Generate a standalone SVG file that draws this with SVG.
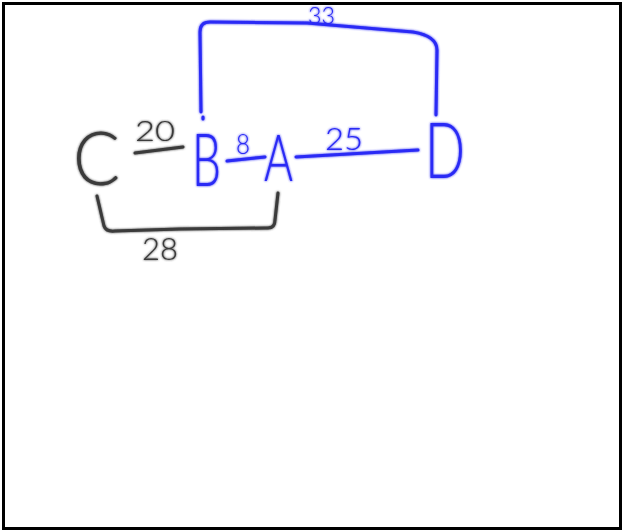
<svg xmlns="http://www.w3.org/2000/svg" width="624" height="532" viewBox="0 0 624 532">
<defs>
<filter id="glow" x="-10%" y="-10%" width="120%" height="120%">
<feGaussianBlur in="SourceGraphic" stdDeviation="1.2" result="b"/>
<feMerge><feMergeNode in="b"/><feMergeNode in="SourceGraphic"/></feMerge>
</filter>
</defs>
<style>
.ink{fill:none;stroke-width:3;stroke-linecap:round;stroke-linejoin:round}
.blue{stroke:#2a2af5}
.dark{stroke:#3a3a3a}
.t{font-family:Lato,"Open Sans","Liberation Sans",sans-serif;font-weight:300}
.tb{fill:#2a2af5}
.td{fill:#3a3a3a}
</style>
<rect x="3.5" y="3.5" width="617" height="525" fill="#fff" stroke="#000" stroke-width="3"/>
<g id="connectors" filter="url(#glow)">
<path class="ink blue" d="M201,112 L200,32 Q200,22 210,22 L307,23 L413,32 Q437,36 437,50 L436,115"/>
<path class="ink blue" d="M203,117 L203,119"/>
<path class="ink blue" d="M227,161 L265,157"/>
<path class="ink blue" d="M296,157 L418,150"/>
<path class="ink dark" d="M135,153 L183,147"/>
<path class="ink dark" d="M97,196 L104,226 Q106,232 115,231 L180,229 L268,228 Q275,228 275,220 L278,193"/>
<text class="t tb" x="308" y="24" font-size="24" textLength="27" lengthAdjust="spacingAndGlyphs">33</text>
<text class="t td" x="135" y="141" font-size="28" textLength="40" lengthAdjust="spacingAndGlyphs">20</text>
<text class="t tb" x="236" y="154" font-size="28" textLength="14" lengthAdjust="spacingAndGlyphs">8</text>
<text class="t tb" x="325" y="150" font-size="32" textLength="38" lengthAdjust="spacingAndGlyphs">25</text>
<text class="t td" x="142" y="260" font-size="32" textLength="36" lengthAdjust="spacingAndGlyphs">28</text>
</g>
<g id="node-C" filter="url(#glow)"><text class="t td" x="73" y="185" font-size="74" textLength="47" lengthAdjust="spacingAndGlyphs">C</text></g>
<g id="node-B" filter="url(#glow)"><text class="t tb" x="192" y="186" font-size="72" textLength="29" lengthAdjust="spacingAndGlyphs">B</text></g>
<g id="node-A" filter="url(#glow)"><text class="t tb" x="264" y="181" font-size="66" textLength="29" lengthAdjust="spacingAndGlyphs">A</text></g>
<g id="node-D" filter="url(#glow)"><text class="t tb" x="425" y="178" font-size="76" textLength="40" lengthAdjust="spacingAndGlyphs">D</text></g>
</svg>
